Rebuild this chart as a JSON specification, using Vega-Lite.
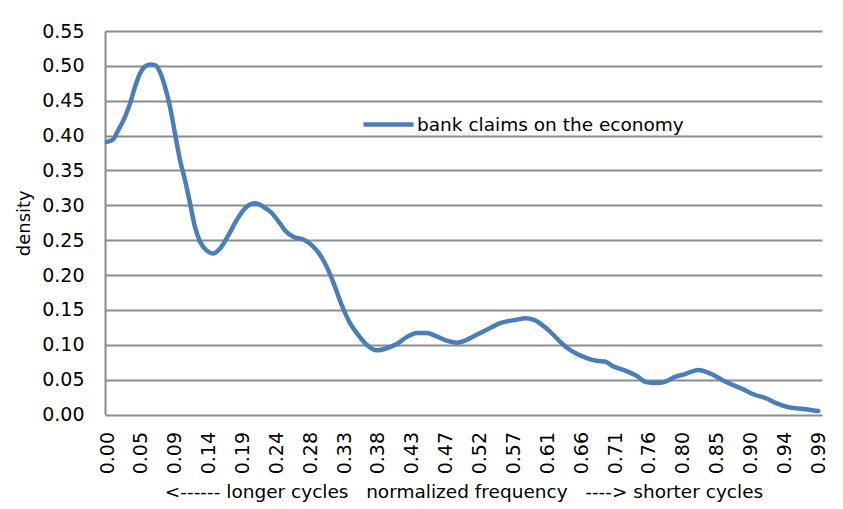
{
  "$schema": "https://vega.github.io/schema/vega-lite/v6.json",
  "autosize": {"type": "none"},
  "padding": {"left": 105, "top": 31, "right": 21, "bottom": 94},
  "width": 717,
  "height": 383.5,
  "background": "white",
  "config": {
    "view": {"stroke": null},
    "font": "DejaVu Sans"
  },
  "data": {
    "values": [
      {"f": 0.0, "v": 0.391, "s": "bank claims on the economy"},
      {"f": 0.0079, "v": 0.394, "s": "bank claims on the economy"},
      {"f": 0.0158, "v": 0.408, "s": "bank claims on the economy"},
      {"f": 0.0251, "v": 0.427, "s": "bank claims on the economy"},
      {"f": 0.0321, "v": 0.446, "s": "bank claims on the economy"},
      {"f": 0.0391, "v": 0.470, "s": "bank claims on the economy"},
      {"f": 0.0460, "v": 0.489, "s": "bank claims on the economy"},
      {"f": 0.0530, "v": 0.499, "s": "bank claims on the economy"},
      {"f": 0.0600, "v": 0.502, "s": "bank claims on the economy"},
      {"f": 0.0669, "v": 0.501, "s": "bank claims on the economy"},
      {"f": 0.0739, "v": 0.491, "s": "bank claims on the economy"},
      {"f": 0.0809, "v": 0.470, "s": "bank claims on the economy"},
      {"f": 0.0879, "v": 0.441, "s": "bank claims on the economy"},
      {"f": 0.0948, "v": 0.403, "s": "bank claims on the economy"},
      {"f": 0.1018, "v": 0.365, "s": "bank claims on the economy"},
      {"f": 0.1088, "v": 0.336, "s": "bank claims on the economy"},
      {"f": 0.1158, "v": 0.303, "s": "bank claims on the economy"},
      {"f": 0.1227, "v": 0.269, "s": "bank claims on the economy"},
      {"f": 0.1297, "v": 0.248, "s": "bank claims on the economy"},
      {"f": 0.1391, "v": 0.235, "s": "bank claims on the economy"},
      {"f": 0.1483, "v": 0.231, "s": "bank claims on the economy"},
      {"f": 0.1576, "v": 0.238, "s": "bank claims on the economy"},
      {"f": 0.1692, "v": 0.257, "s": "bank claims on the economy"},
      {"f": 0.1809, "v": 0.279, "s": "bank claims on the economy"},
      {"f": 0.1948, "v": 0.298, "s": "bank claims on the economy"},
      {"f": 0.2064, "v": 0.303, "s": "bank claims on the economy"},
      {"f": 0.2180, "v": 0.298, "s": "bank claims on the economy"},
      {"f": 0.2297, "v": 0.289, "s": "bank claims on the economy"},
      {"f": 0.2413, "v": 0.274, "s": "bank claims on the economy"},
      {"f": 0.2483, "v": 0.264, "s": "bank claims on the economy"},
      {"f": 0.2598, "v": 0.255, "s": "bank claims on the economy"},
      {"f": 0.2738, "v": 0.251, "s": "bank claims on the economy"},
      {"f": 0.2855, "v": 0.243, "s": "bank claims on the economy"},
      {"f": 0.2971, "v": 0.229, "s": "bank claims on the economy"},
      {"f": 0.3086, "v": 0.207, "s": "bank claims on the economy"},
      {"f": 0.3180, "v": 0.183, "s": "bank claims on the economy"},
      {"f": 0.3273, "v": 0.157, "s": "bank claims on the economy"},
      {"f": 0.3389, "v": 0.131, "s": "bank claims on the economy"},
      {"f": 0.3505, "v": 0.114, "s": "bank claims on the economy"},
      {"f": 0.3622, "v": 0.100, "s": "bank claims on the economy"},
      {"f": 0.3762, "v": 0.092, "s": "bank claims on the economy"},
      {"f": 0.3901, "v": 0.095, "s": "bank claims on the economy"},
      {"f": 0.4040, "v": 0.101, "s": "bank claims on the economy"},
      {"f": 0.4180, "v": 0.111, "s": "bank claims on the economy"},
      {"f": 0.4319, "v": 0.117, "s": "bank claims on the economy"},
      {"f": 0.4459, "v": 0.117, "s": "bank claims on the economy"},
      {"f": 0.4598, "v": 0.112, "s": "bank claims on the economy"},
      {"f": 0.4738, "v": 0.106, "s": "bank claims on the economy"},
      {"f": 0.4877, "v": 0.103, "s": "bank claims on the economy"},
      {"f": 0.4993, "v": 0.106, "s": "bank claims on the economy"},
      {"f": 0.5109, "v": 0.112, "s": "bank claims on the economy"},
      {"f": 0.5248, "v": 0.119, "s": "bank claims on the economy"},
      {"f": 0.5365, "v": 0.125, "s": "bank claims on the economy"},
      {"f": 0.5481, "v": 0.131, "s": "bank claims on the economy"},
      {"f": 0.5597, "v": 0.134, "s": "bank claims on the economy"},
      {"f": 0.5714, "v": 0.136, "s": "bank claims on the economy"},
      {"f": 0.5830, "v": 0.138, "s": "bank claims on the economy"},
      {"f": 0.5946, "v": 0.136, "s": "bank claims on the economy"},
      {"f": 0.6063, "v": 0.129, "s": "bank claims on the economy"},
      {"f": 0.6179, "v": 0.119, "s": "bank claims on the economy"},
      {"f": 0.6294, "v": 0.107, "s": "bank claims on the economy"},
      {"f": 0.6411, "v": 0.096, "s": "bank claims on the economy"},
      {"f": 0.6551, "v": 0.087, "s": "bank claims on the economy"},
      {"f": 0.6690, "v": 0.081, "s": "bank claims on the economy"},
      {"f": 0.6830, "v": 0.077, "s": "bank claims on the economy"},
      {"f": 0.6946, "v": 0.076, "s": "bank claims on the economy"},
      {"f": 0.7061, "v": 0.069, "s": "bank claims on the economy"},
      {"f": 0.7201, "v": 0.064, "s": "bank claims on the economy"},
      {"f": 0.7318, "v": 0.059, "s": "bank claims on the economy"},
      {"f": 0.7410, "v": 0.054, "s": "bank claims on the economy"},
      {"f": 0.7503, "v": 0.047, "s": "bank claims on the economy"},
      {"f": 0.7667, "v": 0.045, "s": "bank claims on the economy"},
      {"f": 0.7806, "v": 0.048, "s": "bank claims on the economy"},
      {"f": 0.7922, "v": 0.054, "s": "bank claims on the economy"},
      {"f": 0.8061, "v": 0.058, "s": "bank claims on the economy"},
      {"f": 0.8247, "v": 0.064, "s": "bank claims on the economy"},
      {"f": 0.8410, "v": 0.059, "s": "bank claims on the economy"},
      {"f": 0.8573, "v": 0.050, "s": "bank claims on the economy"},
      {"f": 0.8713, "v": 0.043, "s": "bank claims on the economy"},
      {"f": 0.8874, "v": 0.036, "s": "bank claims on the economy"},
      {"f": 0.9014, "v": 0.029, "s": "bank claims on the economy"},
      {"f": 0.9201, "v": 0.023, "s": "bank claims on the economy"},
      {"f": 0.9340, "v": 0.016, "s": "bank claims on the economy"},
      {"f": 0.9526, "v": 0.010, "s": "bank claims on the economy"},
      {"f": 0.9711, "v": 0.008, "s": "bank claims on the economy"},
      {"f": 0.9920, "v": 0.005, "s": "bank claims on the economy"}
    ]
  },
  "mark": {"type": "line", "strokeWidth": 4.5, "interpolate": "monotone", "strokeCap": "round"},
  "encoding": {
    "x": {
      "field": "f",
      "type": "quantitative",
      "scale": {"domain": [-0.0028, 0.9972], "nice": false, "zero": false},
      "axis": {
        "values": [0, 0.047235, 0.09447, 0.141705, 0.18894, 0.236175, 0.28341, 0.330645, 0.37788, 0.425115, 0.47235, 0.519585, 0.56682, 0.614055, 0.66129, 0.708525, 0.75576, 0.802995, 0.85023, 0.897465, 0.9447, 0.991935],
        "format": ".2f",
        "labelAngle": -90,
        "labelAlign": "right",
        "labelBaseline": "middle",
        "labelPadding": 17,
        "labelFontSize": 19,
        "labelColor": "#000000",
        "labelFont": "DejaVu Sans",
        "ticks": false,
        "domain": false,
        "grid": false,
        "labelOverlap": false,
        "labelFlush": false,
        "title": "<------ longer cycles \u00a0\u00a0normalized frequency \u00a0\u00a0----> shorter cycles",
        "titleFontSize": 18.5,
        "titleFontWeight": "normal",
        "titleColor": "#000000",
        "titleFont": "DejaVu Sans",
        "titlePadding": 9
      }
    },
    "y": {
      "field": "v",
      "type": "quantitative",
      "scale": {"domain": [0, 0.55], "nice": false},
      "axis": {
        "values": [0, 0.05, 0.1, 0.15, 0.2, 0.25, 0.3, 0.35, 0.4, 0.45, 0.5, 0.55],
        "format": ".2f",
        "labelPadding": 21,
        "labelFontSize": 19,
        "labelColor": "#000000",
        "labelFont": "DejaVu Sans",
        "ticks": false,
        "domain": true,
        "domainColor": "#8C8C8C",
        "domainWidth": 2,
        "grid": true,
        "gridColor": "#8C8C8C",
        "gridWidth": 2,
        "labelOverlap": false,
        "labelFlush": false,
        "title": "density",
        "titleFontSize": 18,
        "titleFontWeight": "normal",
        "titleColor": "#000000",
        "titleFont": "DejaVu Sans",
        "titlePadding": 8
      }
    },
    "color": {
      "field": "s",
      "type": "nominal",
      "scale": {"range": ["#4A7EBB"]},
      "legend": {
        "title": null,
        "orient": "none",
        "legendX": 256,
        "legendY": 66,
        "padding": 0,
        "symbolType": "stroke",
        "symbolSize": 2500,
        "symbolStrokeWidth": 4.5,
        "labelFontSize": 18.5,
        "labelLimit": 500,
        "labelFont": "DejaVu Sans",
        "labelColor": "#000000",
        "labelOffset": 1
      }
    }
  }
}
